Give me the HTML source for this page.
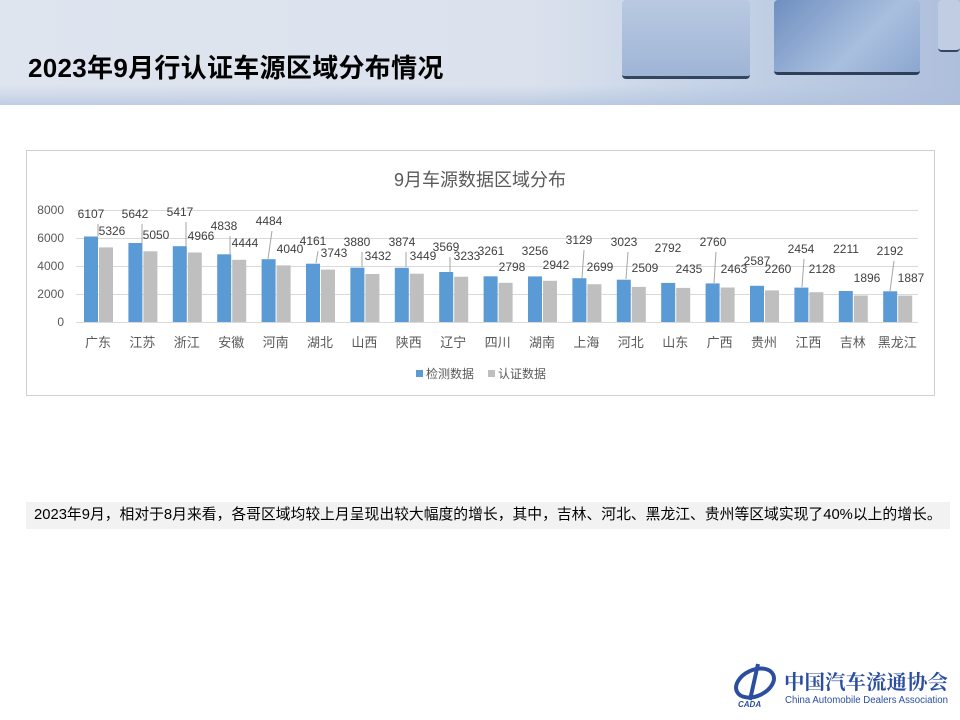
<!DOCTYPE html>
<html><head><meta charset="utf-8">
<style>
body{margin:0;width:960px;height:720px;overflow:hidden;background:#fff;font-family:"Liberation Sans","Noto Sans CJK SC",sans-serif;position:relative}
.hdr{position:absolute;left:0;top:0;width:960px;height:105px;background:linear-gradient(90deg,#dfe5ef 0%,#dbe2ed 55%,#c9d6e8 70%,#aebfdc 100%)}
.hdr .shade{position:absolute;left:0;top:85px;width:960px;height:20px;background:linear-gradient(180deg,rgba(200,212,230,0),rgba(170,190,220,.6))}
.cube{position:absolute;border-radius:4px}
h1{position:absolute;left:28px;top:48px;margin:0;font-size:26px;letter-spacing:0.3px;font-weight:bold;color:#000;font-family:"Liberation Sans","Noto Sans CJK SC",sans-serif}
.note{position:absolute;left:26px;top:502px;width:924px;height:27px;background:#f2f2f2;font-size:14.8px;line-height:27px;color:#000;padding-left:8px;box-sizing:border-box;white-space:nowrap}
</style></head><body>
<div class="hdr">
 <div class="shade"></div>
 <div class="cube" style="left:622px;top:0;width:128px;height:76px;background:linear-gradient(180deg,#b9c9e1,#9fb5d6);border-bottom:3px solid #34455e"></div>
 <div class="cube" style="left:774px;top:0;width:146px;height:72px;background:linear-gradient(135deg,#6f8fc0,#a9bfdf 60%,#8ca6cf);border-bottom:3px solid #2e3f5a"></div>
 <div class="cube" style="left:938px;top:0;width:22px;height:50px;background:#c0cde2;border-bottom:2px solid #34455e"></div>
</div>
<h1>2023年9月行认证车源区域分布情况</h1>
<svg style="position:absolute;left:0;top:0" width="960" height="720" font-family="Liberation Sans, Noto Sans CJK SC, sans-serif">
<rect x="26.5" y="150.5" width="908" height="245" fill="#fff" stroke="#d0d0d0"/>
<text x="480" y="186" font-size="18" fill="#595959" text-anchor="middle">9月车源数据区域分布</text>
<g stroke="#d9d9d9" stroke-width="1">
<line x1="76" y1="210.5" x2="918" y2="210.5"/><line x1="76" y1="238.5" x2="918" y2="238.5"/><line x1="76" y1="266.5" x2="918" y2="266.5"/><line x1="76" y1="294.5" x2="918" y2="294.5"/><line x1="76" y1="322.5" x2="918" y2="322.5"/>
</g>
<g font-size="12" fill="#595959" text-anchor="end">
<text x="64" y="214">8000</text><text x="64" y="242">6000</text><text x="64" y="270">4000</text><text x="64" y="298">2000</text><text x="64" y="326">0</text>
</g>
<g fill="#5b9bd5">
<rect x="84" y="236.5" width="14" height="85.5"/><rect x="128.4" y="243" width="14" height="79"/><rect x="172.8" y="246.2" width="14" height="75.8"/><rect x="217.2" y="254.3" width="14" height="67.7"/><rect x="261.6" y="259.2" width="14" height="62.8"/><rect x="306" y="263.7" width="14" height="58.3"/><rect x="350.4" y="267.7" width="14" height="54.3"/><rect x="394.8" y="267.8" width="14" height="54.2"/><rect x="439.2" y="272" width="14" height="50"/><rect x="483.6" y="276.3" width="14" height="45.7"/><rect x="528" y="276.4" width="14" height="45.6"/><rect x="572.4" y="278.2" width="14" height="43.8"/><rect x="616.8" y="279.7" width="14" height="42.3"/><rect x="661.2" y="282.9" width="14" height="39.1"/><rect x="705.6" y="283.4" width="14" height="38.6"/><rect x="750" y="285.8" width="14" height="36.2"/><rect x="794.4" y="287.6" width="14" height="34.4"/><rect x="838.8" y="291" width="14" height="31"/><rect x="883.2" y="291.3" width="14" height="30.7"/>
</g>
<g fill="#bfbfbf">
<rect x="99" y="247.4" width="14" height="74.6"/><rect x="143.4" y="251.3" width="14" height="70.7"/><rect x="187.8" y="252.5" width="14" height="69.5"/><rect x="232.2" y="259.8" width="14" height="62.2"/><rect x="276.6" y="265.4" width="14" height="56.6"/><rect x="321" y="269.6" width="14" height="52.4"/><rect x="365.4" y="274" width="14" height="48"/><rect x="409.8" y="273.7" width="14" height="48.3"/><rect x="454.2" y="276.7" width="14" height="45.3"/><rect x="498.6" y="282.8" width="14" height="39.2"/><rect x="543" y="280.8" width="14" height="41.2"/><rect x="587.4" y="284.2" width="14" height="37.8"/><rect x="631.8" y="286.9" width="14" height="35.1"/><rect x="676.2" y="287.9" width="14" height="34.1"/><rect x="720.6" y="287.5" width="14" height="34.5"/><rect x="765" y="290.4" width="14" height="31.6"/><rect x="809.4" y="292.2" width="14" height="29.8"/><rect x="853.8" y="295.5" width="14" height="26.5"/><rect x="898.2" y="295.6" width="14" height="26.4"/>
</g>
<g stroke="#a6a6a6" stroke-width="1">
<line x1="98" y1="224" x2="98" y2="236"/><line x1="142" y1="224" x2="142" y2="243"/><line x1="186" y1="222" x2="186" y2="246"/><line x1="230" y1="236" x2="230" y2="254"/><line x1="272" y1="231" x2="268" y2="259"/><line x1="318" y1="251" x2="316" y2="263"/><line x1="362" y1="252" x2="362" y2="267"/><line x1="406" y1="252" x2="406" y2="267"/><line x1="450" y1="257" x2="450" y2="272"/><line x1="584" y1="250" x2="582" y2="278"/><line x1="628" y1="252" x2="626" y2="279"/><line x1="716" y1="252" x2="714" y2="283"/><line x1="804" y1="259" x2="802" y2="287"/><line x1="894" y1="261" x2="890" y2="291"/>
</g>
<g font-size="12" fill="#404040" text-anchor="middle" dominant-baseline="middle">
<text x="91" y="215">6107</text><text x="112" y="232">5326</text>
<text x="135" y="215">5642</text><text x="156" y="236">5050</text>
<text x="180" y="213">5417</text><text x="201" y="237">4966</text>
<text x="224" y="227">4838</text><text x="245" y="244">4444</text>
<text x="269" y="222">4484</text><text x="290" y="250">4040</text>
<text x="313" y="242">4161</text><text x="334" y="254">3743</text>
<text x="357" y="243">3880</text><text x="378" y="257">3432</text>
<text x="402" y="243">3874</text><text x="423" y="257">3449</text>
<text x="446" y="248">3569</text><text x="467" y="257">3233</text>
<text x="491" y="252">3261</text><text x="512" y="268">2798</text>
<text x="535" y="252">3256</text><text x="556" y="266">2942</text>
<text x="579" y="241">3129</text><text x="600" y="268">2699</text>
<text x="624" y="243">3023</text><text x="645" y="269">2509</text>
<text x="668" y="249">2792</text><text x="689" y="270">2435</text>
<text x="713" y="243">2760</text><text x="734" y="270">2463</text>
<text x="757" y="262">2587</text><text x="778" y="270">2260</text>
<text x="801" y="250">2454</text><text x="822" y="270">2128</text>
<text x="846" y="250">2211</text><text x="867" y="279">1896</text>
<text x="890" y="252">2192</text><text x="911" y="279">1887</text>
</g>
<g font-size="13" fill="#595959" text-anchor="middle">
<text x="98" y="347">广东</text><text x="142.4" y="347">江苏</text><text x="186.8" y="347">浙江</text><text x="231.2" y="347">安徽</text><text x="275.6" y="347">河南</text><text x="320" y="347">湖北</text><text x="364.4" y="347">山西</text><text x="408.8" y="347">陕西</text><text x="453.2" y="347">辽宁</text><text x="497.6" y="347">四川</text><text x="542" y="347">湖南</text><text x="586.4" y="347">上海</text><text x="630.8" y="347">河北</text><text x="675.2" y="347">山东</text><text x="719.6" y="347">广西</text><text x="764" y="347">贵州</text><text x="808.4" y="347">江西</text><text x="852.8" y="347">吉林</text><text x="897.2" y="347">黑龙江</text>
</g>
<rect x="416" y="370" width="7" height="7" fill="#5b9bd5"/>
<text x="426" y="378" font-size="12" fill="#595959">检测数据</text>
<rect x="488" y="370" width="7" height="7" fill="#bfbfbf"/>
<text x="498" y="378" font-size="12" fill="#595959">认证数据</text>
<ellipse cx="755" cy="683" rx="20" ry="13" fill="none" stroke="#2b4ea0" stroke-width="4" transform="rotate(-25 755 683)"/>
<path d="M758 664 L750 700" stroke="#2b4ea0" stroke-width="4"/>
<text x="738" y="707" font-size="8" font-weight="bold" font-style="italic" fill="#2b4ea0">CADA</text>
<text x="784" y="689" font-size="20" font-weight="bold" fill="#2b4ea0" font-family="Noto Serif CJK SC, serif" textLength="164" lengthAdjust="spacingAndGlyphs">中国汽车流通协会</text>
<text x="785" y="703" font-size="10" fill="#2b4ea0" textLength="163" lengthAdjust="spacingAndGlyphs">China Automobile Dealers Association</text>
</svg>
<div class="note">2023年9月，相对于8月来看，各哥区域均较上月呈现出较大幅度的增长，其中，吉林、河北、黑龙江、贵州等区域实现了40%以上的增长。</div>
</body></html>
